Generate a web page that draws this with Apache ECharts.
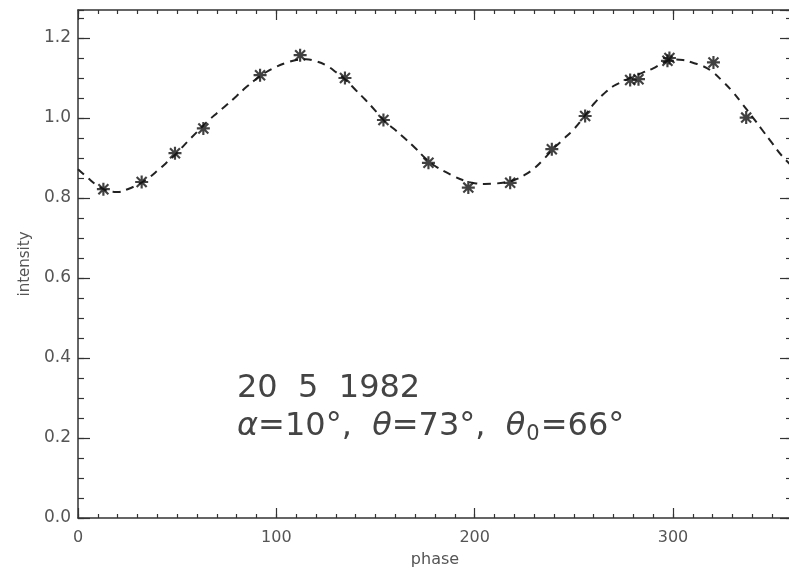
<!DOCTYPE html>
<html>
<head>
<meta charset="utf-8">
<script src="https://cdn.jsdelivr.net/npm/echarts@6/dist/echarts.min.js"></script>
<style>
  html, body { margin: 0; padding: 0; background: #fff; overflow: hidden; }
  #chart { width: 794px; height: 572px; }
</style>
</head>
<body>
<div id="chart"></div>
<script>
// observed points (asterisks)
const obsPhase = [12.8, 32.1, 48.9, 63.2, 91.8, 112.0, 134.6, 154.0, 176.7, 196.8, 217.9, 238.9, 255.7, 278.4, 282.6, 297.2, 298.2, 320.4, 336.9]
const obsIntensity = [0.822, 0.840, 0.912, 0.974, 1.107, 1.157, 1.100, 0.995, 0.888, 0.826, 0.838, 0.922, 1.005, 1.095, 1.097, 1.143, 1.150, 1.139, 1.001]

// model curve (dashed)
const modelPhase = [0, 5, 10, 15, 20, 25, 30, 35, 40, 45, 50, 55, 60, 65, 70, 75, 80, 85, 90, 95,
  100, 105, 110, 115, 120, 125, 130, 135, 140, 145, 150, 155, 160, 165, 170, 175, 180, 185, 190, 195,
  200, 205, 210, 215, 220, 225, 230, 235, 240, 245, 250, 255, 260, 265, 270, 275, 280, 285, 290, 295,
  300, 305, 310, 315, 320, 325, 330, 335, 340, 345, 350, 355, 360]
const modelIntensity = [0.872, 0.850, 0.830, 0.818, 0.815, 0.822, 0.833, 0.848, 0.868, 0.890,
  0.913, 0.940, 0.965, 0.990, 1.012, 1.033, 1.055, 1.078, 1.098, 1.115,
  1.128, 1.138, 1.145, 1.147, 1.142, 1.132, 1.115, 1.095, 1.070, 1.045,
  1.018, 0.990, 0.970, 0.948, 0.925, 0.900, 0.880, 0.866, 0.853, 0.843,
  0.837, 0.835, 0.836, 0.839, 0.845, 0.857, 0.874, 0.898, 0.925, 0.948,
  0.972, 1.002, 1.035, 1.060, 1.080, 1.092, 1.104, 1.114, 1.124, 1.138,
  1.146, 1.145, 1.138, 1.130, 1.115, 1.092, 1.066, 1.035, 1.003, 0.970,
  0.937, 0.905, 0.880]

const xTickLabels = ['0', '100', '200', '300']
const yTickLabels = ['0.0', '0.2', '0.4', '0.6', '0.8', '1.0', '1.2']

const axisColor = '#333'
const labelColor = '#555'
const fontFamily = 'DejaVu Sans'

// asterisk symbol: plus + cross, all subpaths clockwise
const starPath = 'path://M-1,-6L1,-6L1,6L-1,6Z M-6,-1L6,-1L6,1L-6,1Z ' +
  'M-3.9,-5.3L5.3,3.9L3.9,5.3L-5.3,-3.9Z M-5.3,3.9L3.9,-5.3L5.3,-3.9L-3.9,5.3Z'

const xAxisOf = (position, major) => ({
  type: 'value',
  position,
  min: 0,
  max: 360,
  interval: major ? 100 : 10,
  axisLine: { show: major, onZero: false, lineStyle: { color: axisColor, width: 1.5 } },
  axisTick: { show: true, inside: true, length: major ? 10 : 4, lineStyle: { color: axisColor, width: 1.2 } },
  axisLabel: {
    show: major && position === 'bottom',
    margin: 12,
    color: labelColor,
    fontSize: 16,
    fontFamily,
    showMaxLabel: false,
    formatter: (v) => xTickLabels[v / 100] ?? ''
  },
  splitLine: { show: false },
  name: major && position === 'bottom' ? 'phase' : '',
  nameLocation: 'middle',
  nameGap: 34,
  nameTextStyle: { color: labelColor, fontSize: 16, fontFamily }
})

const yAxisOf = (position, major) => ({
  type: 'value',
  position,
  min: 0,
  max: 1.27,
  interval: major ? 0.2 : 0.05,
  axisLine: { show: major, onZero: false, lineStyle: { color: axisColor, width: 1.5 } },
  axisTick: { show: true, inside: true, length: major ? 12 : 6, lineStyle: { color: axisColor, width: 1.2 } },
  axisLabel: {
    show: major && position === 'left',
    margin: 7,
    color: labelColor,
    fontSize: 17,
    fontFamily,
    showMaxLabel: false,
    formatter: (v) => yTickLabels[Math.round(v / 0.2)] ?? ''
  },
  splitLine: { show: false },
  name: major && position === 'left' ? 'intensity' : '',
  nameLocation: 'middle',
  nameGap: 42,
  nameTextStyle: { color: labelColor, fontSize: 15, fontFamily }
})

const chart = echarts.init(document.getElementById('chart'), null, { renderer: 'canvas' })

const option = {
  backgroundColor: '#fff',
  animation: false,
  grid: { left: 78, right: 2, top: 10, bottom: 54, outerBoundsMode: 'none' },
  xAxis: [xAxisOf('bottom', true), xAxisOf('bottom', false), xAxisOf('top', true), xAxisOf('top', false)],
  yAxis: [yAxisOf('left', true), yAxisOf('left', false), yAxisOf('right', true), yAxisOf('right', false)],
  series: [
    {
      type: 'line',
      xAxisIndex: 0,
      yAxisIndex: 0,
      data: modelPhase.map((p, i) => [p, modelIntensity[i]]),
      smooth: 0.4,
      symbol: 'none',
      lineStyle: { color: '#222', width: 2, type: [8, 6] },
      z: 2
    },
    {
      type: 'scatter',
      xAxisIndex: 0,
      yAxisIndex: 0,
      data: obsPhase.map((p, i) => [p, obsIntensity[i]]),
      symbol: starPath,
      symbolSize: 13,
      itemStyle: { color: '#111' },
      z: 3
    }
  ],
  graphic: [
    {
      type: 'text',
      left: 237,
      top: 373,
      style: {
        text: '20  5  1982',
        font: '32px "DejaVu Sans"',
        fill: '#444'
      }
    },
    {
      type: 'text',
      left: 237,
      top: 411,
      style: {
        text: '{i|α}=10°,  {i|θ}=73°,  {i|θ}{s|0}=66°',
        font: '32px "DejaVu Sans"',
        fill: '#444',
        rich: {
          i: { fontStyle: 'italic', fontSize: 32, fontFamily: 'DejaVu Sans', fill: '#444' },
          s: { fontSize: 21, fontFamily: 'DejaVu Sans', fill: '#444', padding: [16, 1, 0, 1] }
        }
      }
    }
  ]
}

chart.setOption(option)
window.addEventListener('resize', () => chart.resize())
</script>
</body>
</html>
